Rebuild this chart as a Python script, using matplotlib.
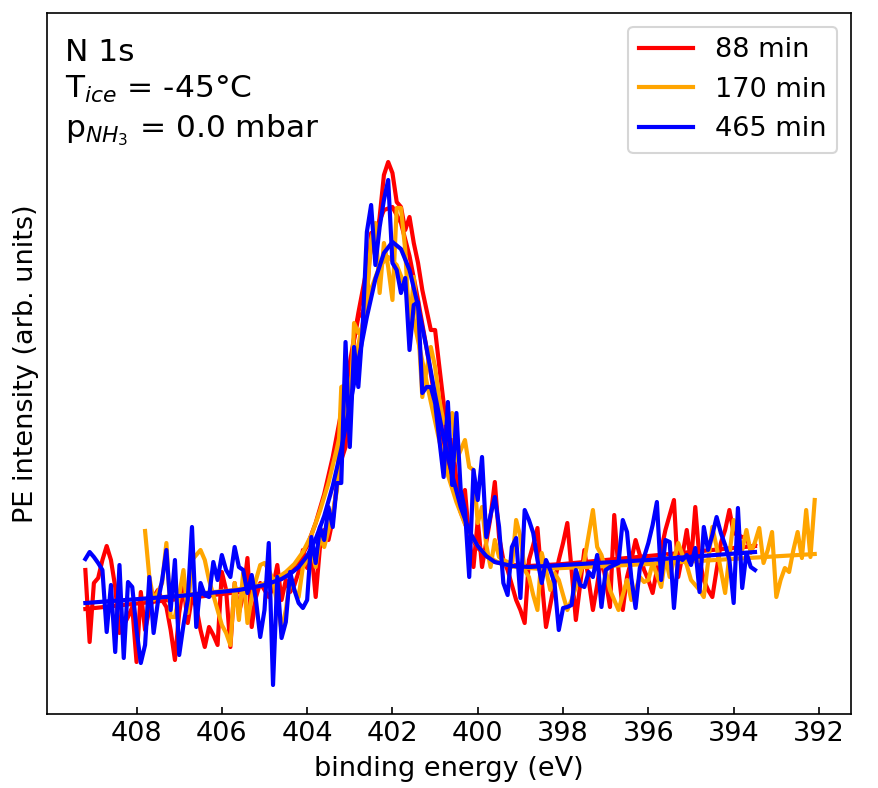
import numpy as np
import matplotlib
matplotlib.use("Agg")
import matplotlib.pyplot as plt

# N 1s spectra, arbitrary intensity units, 0.1 eV steps
STEP = 0.1
start_88 = 409.2
start_170 = 407.8
start_465 = 409.2

labels = ["88 min", "170 min", "465 min"]
colors = ["red", "orange", "blue"]

counts_88 = [
    150, 78, 137, 142, 160, 174, 160, 133, 87, 95,
    103, 113, 58, 128, 90, 110, 123, 130, 120, 113,
    90, 60, 107, 135, 97, 123, 113, 90, 73, 93,
    85, 75, 148, 130, 73, 137, 107, 125, 162, 93,
    123, 137, 130, 123, 133, 155, 120, 140, 128, 135,
    148, 170, 152, 170, 123, 173, 190, 180, 200, 237,
    260, 273, 340, 380, 403, 407, 423, 487, 470, 503,
    545, 558, 547, 518, 513, 490, 503, 477, 457, 430,
    410, 390, 390, 353, 317, 263, 280, 240, 213, 230,
    180, 153, 200, 153, 178, 203, 238, 183, 160, 150,
    135, 120, 110, 97, 160, 175, 192, 140, 93, 115,
    137, 160, 177, 197, 150, 100, 135, 170, 140, 110,
    135, 163, 140, 113, 205, 150, 110, 143, 160, 180,
    165, 150, 140, 127, 150, 170, 190, 205, 220, 143,
    165, 190, 157, 213, 160, 140, 130, 123, 150, 177,
    190, 210, 187, 185, 183, 182, 170, 175,
]

counts_170 = [
    189, 143, 120, 128, 137, 177, 103, 103, 125, 150,
    107, 160, 165, 170, 160, 140, 125, 110, 95, 87,
    75, 137, 100, 147, 97, 123, 140, 155, 157, 150,
    140, 115, 90, 110, 140, 130, 123, 153, 160, 170,
    153, 183, 173, 190, 207, 230, 333, 335, 297, 397,
    387, 393, 423, 480, 497, 427, 477, 453, 420, 512,
    512, 470, 390, 443, 397, 323, 350, 373, 353, 320,
    297, 300, 307, 260, 270, 280, 253, 250, 197, 213,
    175, 153, 180, 163, 160, 158, 153, 200, 183, 150,
    143, 125, 110, 167, 150, 130, 147, 140, 125, 110,
    120, 133, 147, 160, 185, 210, 173, 165, 150, 130,
    120, 110, 125, 140, 120, 130, 143, 138, 140, 157,
    145, 133, 163, 143, 160, 177, 165, 155, 140, 135,
    130, 123, 158, 193, 173, 150, 127, 165, 200, 185,
    170, 190, 167, 178, 192, 157, 170, 188, 123, 140,
    152, 148, 170, 188, 162, 210, 163, 220,
]

counts_465 = [
    161, 168, 163, 157, 150, 88, 135, 68, 155, 62,
    138, 133, 90, 57, 75, 143, 87, 118, 140, 170,
    110, 160, 65, 95, 120, 193, 93, 137, 125, 123,
    158, 140, 165, 150, 143, 173, 153, 150, 127, 145,
    120, 83, 110, 177, 35, 143, 82, 98, 148, 130,
    117, 112, 120, 183, 157, 193, 180, 213, 193, 237,
    237, 378, 273, 373, 333, 392, 488, 515, 455, 493,
    520, 540, 457, 450, 427, 442, 370, 415, 418, 327,
    333, 333, 317, 280, 243, 318, 235, 307, 230, 210,
    143, 250, 220, 263, 183, 205, 223, 193, 137, 125,
    173, 182, 122, 210, 200, 187, 160, 137, 160, 150,
    137, 90, 112, 113, 115, 150, 135, 133, 148, 143,
    165, 113, 150, 153, 155, 157, 200, 188, 142, 112,
    152, 163, 177, 195, 218, 140, 180, 178, 112, 163,
    160, 165, 155, 172, 128, 193, 170, 185, 203, 187,
    175, 160, 117, 212, 132, 167, 153, 150,
]

# fitted curves
fit_energy_rb = [409.2, 407.0, 405.6, 405.0, 404.6, 404.4, 404.2, 404.0, 403.8,
                 403.6, 403.4, 403.2, 403.0, 402.8, 402.6, 402.4, 402.2, 402.0,
                 401.8, 401.6, 401.4, 401.2, 401.0, 400.8, 400.6, 400.4, 400.2,
                 400.0, 399.8, 399.6, 399.2, 398.8, 398.0, 396.0, 393.5]
fit_88 = [111, 121, 128, 135, 141, 149, 159, 174, 197, 226, 263, 308, 357, 407,
          452, 489, 510, 513, 497, 464, 420, 372, 320, 276, 239, 208, 186, 172,
          164, 158, 155, 154, 156, 164, 174]
fit_465 = [117, 124, 130, 135, 141, 146, 153, 164, 181, 204, 234, 271, 314, 359,
           403, 441, 467, 478, 471, 450, 414, 372, 325, 282, 245, 213, 189, 174,
           164, 158, 154, 153, 155, 160, 168]
fit_energy_o = [407.8, 406.9, 405.7, 405.1, 404.7, 404.5, 404.3, 404.1, 403.9,
                403.7, 403.5, 403.3, 403.1, 402.9, 402.7, 402.5, 402.3, 402.1,
                401.9, 401.7, 401.5, 401.3, 401.1, 400.9, 400.7, 400.5, 400.3,
                400.1, 399.9, 399.7, 399.5, 399.1, 398.5, 396.0, 392.1]
fit_170 = [121, 125, 130, 135, 142, 148, 156, 168, 185, 209, 237, 272, 312, 354,
           396, 431, 454, 463, 455, 433, 400, 359, 318, 279, 245, 218, 196, 180,
           169, 162, 157, 153, 151, 156, 166]


def grid(start, values):
    return start - STEP * np.arange(len(values))


fig = plt.figure(figsize=(878 / 150, 788 / 150), dpi=150)
ax = fig.add_axes([0.0535, 0.0939, 0.9157, 0.8896])

series = [
    (grid(start_88, counts_88), counts_88, fit_energy_rb, fit_88),
    (grid(start_170, counts_170), counts_170, fit_energy_o, fit_170),
    (grid(start_465, counts_465), counts_465, fit_energy_rb, fit_465),
]

for (e, y, fe, fy), lab, col in zip(series, labels, colors):
    ax.plot(e, y, color=col, lw=2, label=lab)
    ax.plot(fe, fy, color=col, lw=2)

ax.set_xlim(410.1, 391.25)
ax.set_ylim(6, 707)
ax.set_xticks([408, 406, 404, 402, 400, 398, 396, 394, 392])
ax.set_yticks([])
ax.tick_params(axis='x', direction='in', labelsize=13)

ax.set_xlabel('binding energy (eV)', fontsize=13)
ax.set_ylabel('PE intensity (arb. units)', fontsize=13)

ax.text(0.022, 0.965, 'N 1s\nT$_{ice}$ = -45°C\np$_{NH_3}$ = 0.0 mbar',
        transform=ax.transAxes, va='top', ha='left', fontsize=15,
        linespacing=1.3)

ax.legend(loc='upper right', fontsize=13)

fig.savefig('out.png', dpi=150)
